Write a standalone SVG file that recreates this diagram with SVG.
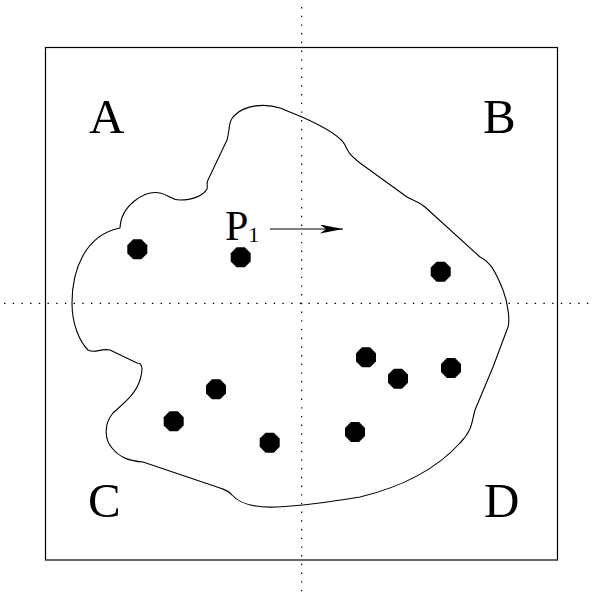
<svg xmlns="http://www.w3.org/2000/svg" width="595" height="596" viewBox="0 0 595 596">
  <style>
    .lbl { font-family: "Liberation Serif", "Times New Roman", serif; font-size: 49px; fill: #000; }
    .dot { fill: #000; stroke: none; }
    .axis { stroke: #000; stroke-width: 1.2; stroke-dasharray: 1.4 7.3; fill: none; }
    .frame { fill: none; stroke: #000; stroke-width: 1.2; }
    .blob { fill: none; stroke: #000; stroke-width: 1.1; stroke-linejoin: round; }
    .conn { stroke: #000; stroke-width: 1.1; fill: none; }
  </style>
  <defs>
    <marker id="ah" markerUnits="userSpaceOnUse" markerWidth="24" markerHeight="10" refX="23" refY="4.5" orient="auto">
      <path d="M0,0 L23,4.5 L0,9 L6,4.5 Z" fill="#000"/>
    </marker>
    <polygon id="oct" points="4.1,-10 10,-4.1 10,4.1 4.1,10 -4.1,10 -10,4.1 -10,-4.1 -4.1,-10"/>
  </defs>
  <rect id="white" x="0" y="0" width="595" height="596" fill="#fff"/>
  <g id="frame">
    <rect class="frame" x="45.5" y="47.5" width="512" height="512.5"/>
  </g>
  <g id="axes">
    <line class="axis" x1="301.7" y1="7" x2="301.7" y2="592"/>
    <line class="axis" x1="4" y1="303.3" x2="595" y2="303.3"/>
  </g>
  <g id="region">
    <path class="blob" d="M72,303 C72,270 85,235 120,228 C121,205 145,190 160,193 C170,195 170,200 180,200 C192,200 203,196 207,189 C208,186 206,184 208,180 L227,140 C230,130 228,120 235,115 C245,105 265,103 280,108 L302,117 C320,125 340,135 345,145 C348,152 350,155 360,163 L407,197 C412,200 418,201 425,207 L480,257 C490,262 495,270 503,290 C508,303 510,320 508,327 L493,367 L475,410 C472,420 473,430 460,443 C440,465 410,485 360,497 C330,502 300,506 277,507 C255,508 240,504 232,495 C228,490 225,490 220,488 L143,462 C130,461 120,458 112,448 C105,440 103,425 113,413 C125,402 135,395 140,380 C143,370 143,363 137,363 L110,350 C100,348 95,354 88,350 C80,342 72,325 72,303 Z"/>
  </g>
  <g id="points">
    <use href="#oct" class="dot" x="137.3" y="249.3"/>
    <use href="#oct" class="dot" x="240.7" y="257.3"/>
    <use href="#oct" class="dot" x="440.7" y="271.7"/>
    <use href="#oct" class="dot" x="216" y="389.3"/>
    <use href="#oct" class="dot" x="173.7" y="421.3"/>
    <use href="#oct" class="dot" x="269.7" y="442.7"/>
    <use href="#oct" class="dot" x="366" y="357.3"/>
    <use href="#oct" class="dot" x="398" y="378.7"/>
    <use href="#oct" class="dot" x="451" y="368"/>
    <use href="#oct" class="dot" x="355" y="432"/>
  </g>
  <g id="labelA"><text class="lbl" x="89" y="133">A</text></g>
  <g id="labelB"><text class="lbl" x="483" y="133">B</text></g>
  <g id="labelC"><text class="lbl" x="88" y="517">C</text></g>
  <g id="labelD"><text class="lbl" x="484" y="517">D</text></g>
  <g id="labelP1"><text class="lbl" x="225" y="240" style="font-size:42px">P<tspan style="font-size:22px" dy="2">1</tspan></text></g>
  <g id="connectors">
    <line class="conn" x1="270" y1="229" x2="343" y2="229" marker-end="url(#ah)"/>
  </g>
</svg>
